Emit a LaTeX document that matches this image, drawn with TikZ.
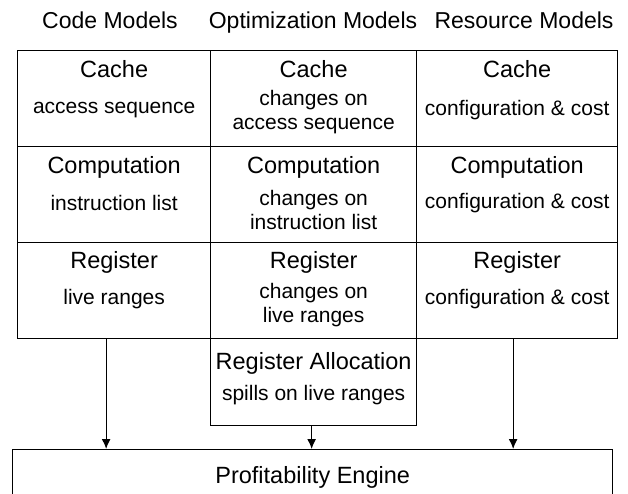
\documentclass[tikz,border=0pt]{standalone}
\usepackage{fontspec}
\setmainfont{Liberation Sans}
\usepackage{tikz}
\usetikzlibrary{arrows.meta,calc,positioning}
\tikzset{
    cellsty/.style={draw,line width=1.3pt,rectangle,minimum height=96pt,anchor=north west,inner sep=0pt},
    headsty/.style={font=\fontsize{23}{27}\selectfont,inner sep=0pt,text height=0.72em,text depth=0pt},
    titlesty/.style={font=\fontsize{23.5}{27}\selectfont,inner sep=0pt,text height=0.72em,text depth=0pt},
    substy/.style={font=\fontsize{21}{23.5}\selectfont,inner sep=0pt,align=center},
    arrsty/.style={->,line width=1.3pt},
}

\begin{document}
\begin{tikzpicture}[>={Latex[length=10pt,width=9pt]},x=1pt,y=-1pt]
\useasboundingbox (0,0) rectangle (628,493);

% column headers
\node[headsty] (hcode) at (110,25) {Code Models};
\node[headsty] (hopt) at (313,25) {Optimization Models};
\node[headsty] (hres) at (524,25) {Resource Models};

% cache row
\node[cellsty,minimum width=193pt] (cache1) at (17,50) {};
\node[cellsty,minimum width=206pt] (cache2) at (210,50) {};
\node[cellsty,minimum width=201pt] (cache3) at (416,50) {};
\node[titlesty] (cache1t) at ([yshift=-24pt]cache1.north) {Cache};
\node[titlesty] (cache2t) at ([yshift=-24pt]cache2.north) {Cache};
\node[titlesty] (cache3t) at ([yshift=-24pt]cache3.north) {Cache};
\node[substy] (cache1s) at ([yshift=-60pt]cache1.north) {access sequence};
\node[substy] (cache2s) at ([yshift=-62pt]cache2.north) {changes on\\access sequence};
\node[substy] (cache3s) at ([yshift=-60pt]cache3.north) {configuration \& cost};

% computation row
\node[cellsty,minimum width=193pt] (comp1) at (17,146) {};
\node[cellsty,minimum width=206pt] (comp2) at (210,146) {};
\node[cellsty,minimum width=201pt] (comp3) at (416,146) {};
\node[titlesty] (comp1t) at ([yshift=-24pt]comp1.north) {Computation};
\node[titlesty] (comp2t) at ([yshift=-24pt]comp2.north) {Computation};
\node[titlesty] (comp3t) at ([yshift=-24pt]comp3.north) {Computation};
\node[substy] (comp1s) at ([yshift=-57pt]comp1.north) {instruction list};
\node[substy] (comp2s) at ([yshift=-64pt]comp2.north) {changes on\\instruction list};
\node[substy] (comp3s) at ([yshift=-57pt]comp3.north) {configuration \& cost};

% register row
\node[cellsty,minimum width=193pt] (reg1) at (17,242) {};
\node[cellsty,minimum width=206pt] (reg2) at (210,242) {};
\node[cellsty,minimum width=201pt] (reg3) at (416,242) {};
\node[titlesty] (reg1t) at ([yshift=-23pt]reg1.north) {Register};
\node[titlesty] (reg2t) at ([yshift=-23pt]reg2.north) {Register};
\node[titlesty] (reg3t) at ([yshift=-23pt]reg3.north) {Register};
\node[substy] (reg1s) at ([yshift=-57pt]reg1.north) {live ranges};
\node[substy] (reg2s) at ([yshift=-63pt]reg2.north) {changes on\\live ranges};
\node[substy] (reg3s) at ([yshift=-57pt]reg3.north) {configuration \& cost};

% register allocation
\node[cellsty,minimum width=206pt,minimum height=87pt] (alloc) at (210,338) {};
\node[titlesty] (alloct) at ([yshift=-28pt]alloc.north) {Register Allocation};
\node[substy] (allocs) at ([yshift=-57pt]alloc.north) {spills on live ranges};

% engine
\node[cellsty,minimum width=600pt,minimum height=60pt] (engine) at (12,449) {};
\node[titlesty] (enginet) at ([yshift=-31pt]engine.north) {Profitability Engine};

% arrows
\draw[arrsty] ([xshift=-8pt]reg1.south) -- ([xshift=-8pt]reg1.south |- engine.north);
\draw[arrsty] ([xshift=-2pt]alloc.south) -- ([xshift=-2pt]alloc.south |- engine.north);
\draw[arrsty] ([xshift=-4pt]reg3.south) -- ([xshift=-4pt]reg3.south |- engine.north);
\end{tikzpicture}
\end{document}
